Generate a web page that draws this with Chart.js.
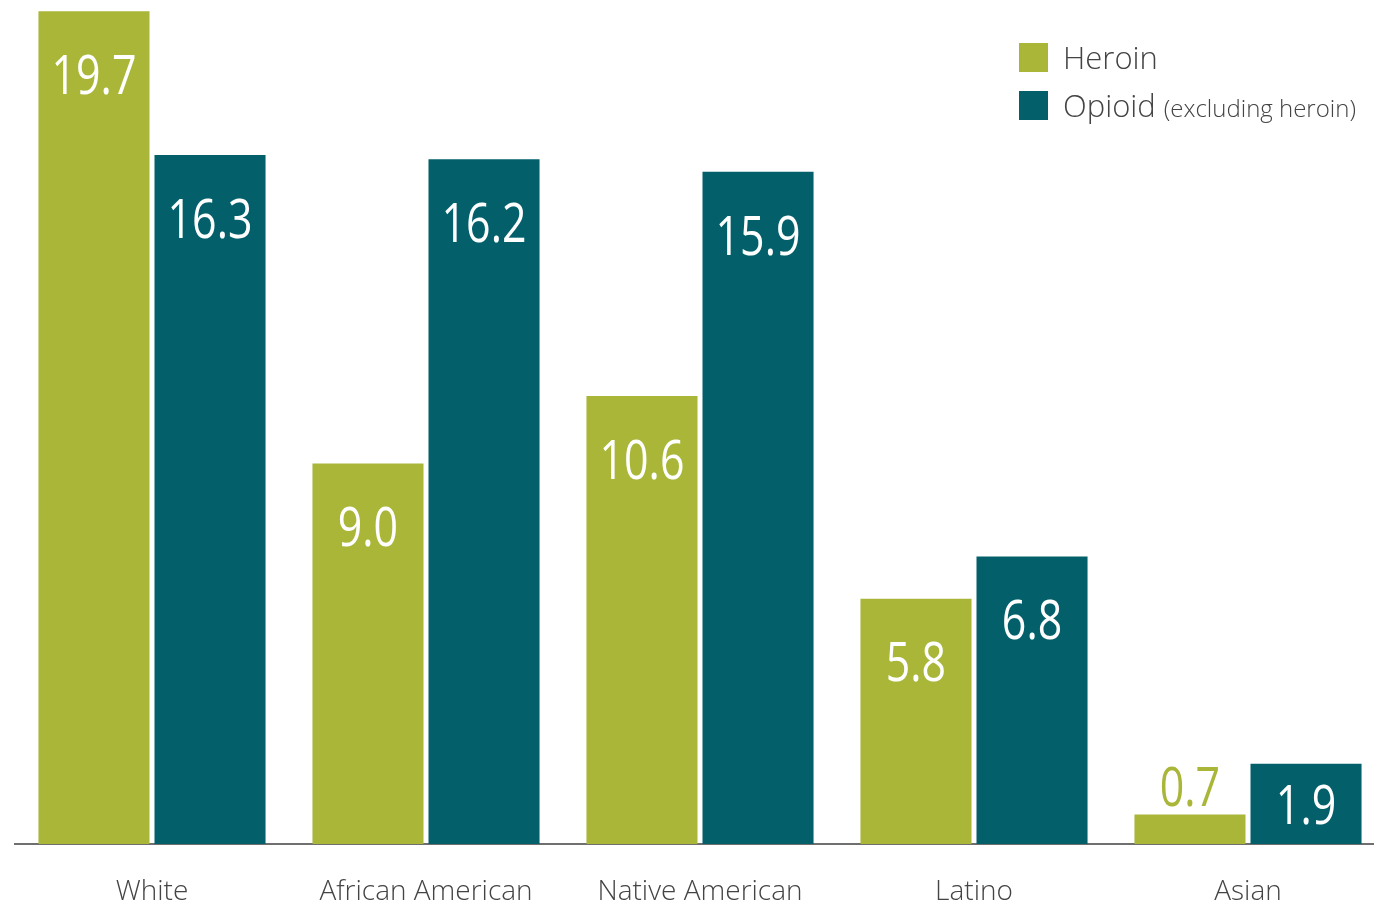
<!DOCTYPE html>
<html>
<head>
<meta charset="utf-8">
<script src="https://cdn.jsdelivr.net/npm/chart.js@4/dist/chart.umd.min.js"></script>
<style>
  html, body { margin: 0; padding: 0; background: #fff; overflow: hidden; }
  #wrap { width: 1390px; height: 903px; }
</style>
</head>
<body>
<div id="wrap"><canvas id="c" width="1390" height="903"></canvas></div>
<script>
// Overdose death rates by race/ethnicity
const categories = ['White', 'African American', 'Native American', 'Latino', 'Asian'];
const heroin = [19.7, 9.0, 10.6, 5.8, 0.7];
const opioid = [16.3, 16.2, 15.9, 6.8, 1.9];
const seriesNames = ['Heroin', 'Opioid'];
const seriesNote = '(excluding heroin)';

const GREEN = '#a9b638';
const TEAL = '#03606b';
const TEXT = '#444444';
const NUM_FONT = '"Open Sans", "DejaVu Sans", sans-serif';

// Value labels: condensed white numerals near the top of each bar;
// short bars get the label above in the series colour.
const valueLabels = {
  id: 'valueLabels',
  afterDatasetsDraw(chart) {
    const ctx = chart.ctx;
    chart.data.datasets.forEach((ds, di) => {
      const meta = chart.getDatasetMeta(di);
      meta.data.forEach((bar, i) => {
        const v = ds.data[i];
        const h = bar.base - bar.y;
        let cy, color;
        if (h >= 130) { cy = bar.y + 67; color = '#fff'; }
        else if (h >= 60) { cy = bar.y + h / 2 + 4; color = '#fff'; }
        else { cy = bar.y - 24; color = ds.backgroundColor; }
        ctx.save();
        ctx.translate(bar.x, cy);
        ctx.scale(0.78, 1);
        ctx.font = '400 55px ' + NUM_FONT;
        ctx.fillStyle = color;
        ctx.textAlign = 'center';
        ctx.textBaseline = 'middle';
        ctx.fillText(v.toFixed(1), 0, 0);
        ctx.restore();
      });
    });
  }
};

// Legend in the upper right corner
const legendBox = {
  id: 'legendBox',
  afterDraw(chart) {
    const ctx = chart.ctx;
    const items = [
      { color: GREEN, label: seriesNames[0], note: '' },
      { color: TEAL, label: seriesNames[1], note: seriesNote }
    ];
    items.forEach((it, k) => {
      const y = 43 + k * 48;
      ctx.save();
      ctx.fillStyle = it.color;
      ctx.fillRect(1019, y, 29, 29);
      ctx.fillStyle = TEXT;
      ctx.textBaseline = 'middle';
      ctx.textAlign = 'left';
      ctx.font = '300 31px "Open Sans", sans-serif';
      ctx.fillText(it.label, 1063, y + 17);
      if (it.note) {
        const w = ctx.measureText(it.label).width;
        ctx.font = '300 24px "Open Sans", sans-serif';
        ctx.fillText(it.note, 1063 + w + 8, y + 19);
      }
      ctx.restore();
    });
  }
};

new Chart(document.getElementById('c'), {
  type: 'bar',
  data: {
    labels: categories,
    datasets: [
      { label: seriesNames[0], data: heroin, backgroundColor: GREEN, barPercentage: 0.957, categoryPercentage: 0.847 },
      { label: seriesNames[1], data: opioid, backgroundColor: TEAL, barPercentage: 0.957, categoryPercentage: 0.847 }
    ]
  },
  options: {
    responsive: false,
    animation: false,
    layout: { padding: { left: 15, right: 5, top: 7, bottom: 0 } },
    plugins: { legend: { display: false }, tooltip: { enabled: false } },
    scales: {
      x: {
        grid: { display: false, drawTicks: false },
        border: { display: true, color: '#6f6f6f', width: 2 },
        ticks: {
          color: TEXT,
          font: { family: '"Open Sans", sans-serif', size: 28, weight: 300 },
          padding: 31,
          maxRotation: 0
        },
        afterFit(scale) { scale.height = 59; }
      },
      y: {
        display: false,
        min: 0,
        max: 19.8
      }
    }
  },
  plugins: [valueLabels, legendBox]
});
</script>
</body>
</html>
